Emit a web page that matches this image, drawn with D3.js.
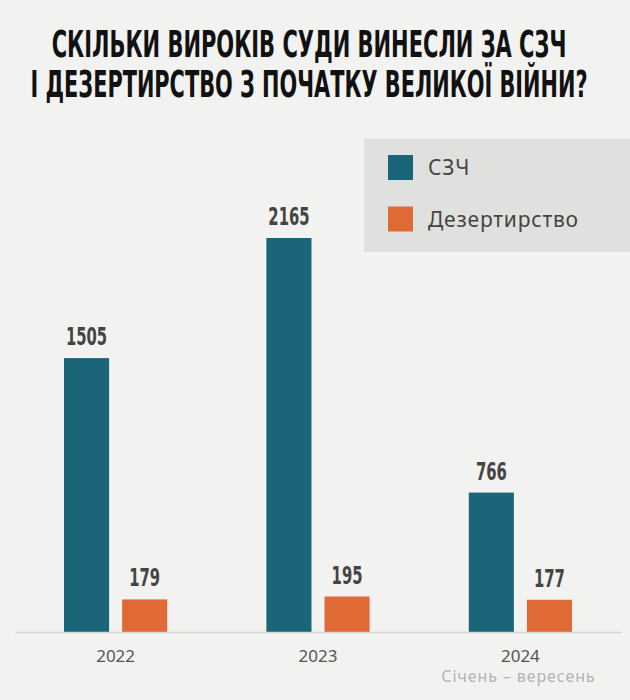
<!DOCTYPE html>
<html>
<head>
<meta charset="utf-8">
<script src="https://cdn.jsdelivr.net/npm/d3@7"></script>
<style>
  html, body { margin: 0; padding: 0; background: #f2f2f0; }
  svg { display: block; }
</style>
</head>
<body>
<script>
const width = 630;
const height = 700;

// data
const years = ["2022", "2023", "2024"];
const series = ["СЗЧ", "Дезертирство"];
const szch = [1505, 2165, 766];
const dezert = [179, 195, 177];
const colors = ["#1b657b", "#e06a35"];
const titleLines = [
  "СКІЛЬКИ ВИРОКІВ СУДИ ВИНЕСЛИ ЗА СЗЧ",
  "І ДЕЗЕРТИРСТВО З ПОЧАТКУ ВЕЛИКОЇ ВІЙНИ?"
];
const note = "Січень – вересень";

const svg = d3.select("body")
  .append("svg")
  .attr("width", width)
  .attr("height", height);

svg.append("rect")
  .attr("width", width)
  .attr("height", height)
  .attr("fill", "#f2f2f0");

// title: measured, then squeezed horizontally to look like a condensed face
const titleWidths = [515, 557];
svg.selectAll("g.title")
  .data(titleLines)
  .enter()
  .append("g")
  .attr("class", "title")
  .each(function(d, i) {
    const g = d3.select(this);
    const t = g.append("text")
      .attr("text-anchor", "middle")
      .style("font-family", "'Liberation Sans Narrow', 'DejaVu Sans Condensed', sans-serif")
      .style("font-weight", 700)
      .style("font-size", "38px")
      .attr("fill", "#111")
      .text(d);
    const w = t.node().getComputedTextLength();
    g.attr("transform", `translate(309,${57 + i * 39.5}) scale(${titleWidths[i] / w},1)`);
  });

// legend box
svg.append("rect")
  .attr("x", 364)
  .attr("y", 139)
  .attr("width", width - 364)
  .attr("height", 113)
  .attr("fill", "#e0e0de");

const legend = svg.selectAll("g.legend")
  .data(series)
  .enter()
  .append("g")
  .attr("class", "legend")
  .attr("transform", (d, i) => `translate(388,${155 + i * 51.5})`);

legend.append("rect")
  .attr("width", 25)
  .attr("height", 25)
  .attr("fill", (d, i) => colors[i]);

legend.append("text")
  .attr("x", 40)
  .attr("y", 20)
  .style("font-family", "'Noto Sans', 'Open Sans', sans-serif")
  .style("font-size", "21px")
  .style("letter-spacing", "0.8px")
  .attr("fill", "#444")
  .text(d => d);

// scales
const x0 = d3.scaleBand()
  .domain(years)
  .range([64, 572])
  .paddingInner(0.49)
  .paddingOuter(0);

const x1 = d3.scaleBand()
  .domain(series)
  .range([0, x0.bandwidth()])
  .paddingInner(0.224);

const y = d3.scaleLinear()
  .domain([0, 2165])
  .range([632, 238]);

const rows = years.map((yr, i) => ({
  year: yr,
  values: [
    { key: series[0], value: szch[i], c: colors[0] },
    { key: series[1], value: dezert[i], c: colors[1] }
  ]
}));

const groups = svg.selectAll("g.year")
  .data(rows)
  .enter()
  .append("g")
  .attr("class", "year")
  .attr("transform", d => `translate(${x0(d.year)},0)`);

groups.selectAll("rect")
  .data(d => d.values)
  .enter()
  .append("rect")
  .attr("x", d => x1(d.key))
  .attr("y", d => y(d.value))
  .attr("width", x1.bandwidth())
  .attr("height", d => y(0) - y(d.value))
  .attr("fill", d => d.c);

groups.selectAll("text.val")
  .data(d => d.values)
  .enter()
  .append("text")
  .attr("class", "val")
  .attr("x", d => x1(d.key) + x1.bandwidth() / 2)
  .attr("y", d => y(d.value) - 13)
  .attr("text-anchor", "middle")
  .attr("textLength", d => String(d.value).length * 10.3)
  .attr("lengthAdjust", "spacingAndGlyphs")
  .style("font-family", "'Liberation Sans Narrow', 'DejaVu Sans Condensed', sans-serif")
  .style("font-weight", 700)
  .style("font-size", "25px")
  .attr("fill", "#444")
  .text(d => d.value);

// baseline
svg.append("line")
  .attr("x1", 15)
  .attr("x2", 622)
  .attr("y1", y(0) + 0.5)
  .attr("y2", y(0) + 0.5)
  .attr("stroke", "#d6d6d6")
  .attr("stroke-width", 1.5);

// x axis labels
const xAxis = d3.axisBottom(x0)
  .tickSize(0)
  .tickPadding(0);

const ax = svg.append("g")
  .attr("transform", `translate(0,${y(0)})`)
  .call(xAxis);
ax.select(".domain").remove();
ax.selectAll("text")
  .attr("dy", 0)
  .attr("y", 30)
  .style("font-family", "'Noto Sans', 'Open Sans', sans-serif")
  .style("font-size", "17px")
  .attr("fill", "#555");

svg.append("text")
  .attr("x", x0("2024") + x0.bandwidth() / 2 - 2)
  .attr("y", 682)
  .attr("text-anchor", "middle")
  .style("font-family", "'Noto Sans', 'Open Sans', sans-serif")
  .style("font-size", "16px")
  .style("letter-spacing", "0.9px")
  .attr("fill", "#b3b3b3")
  .text(note);
</script>
</body>
</html>
